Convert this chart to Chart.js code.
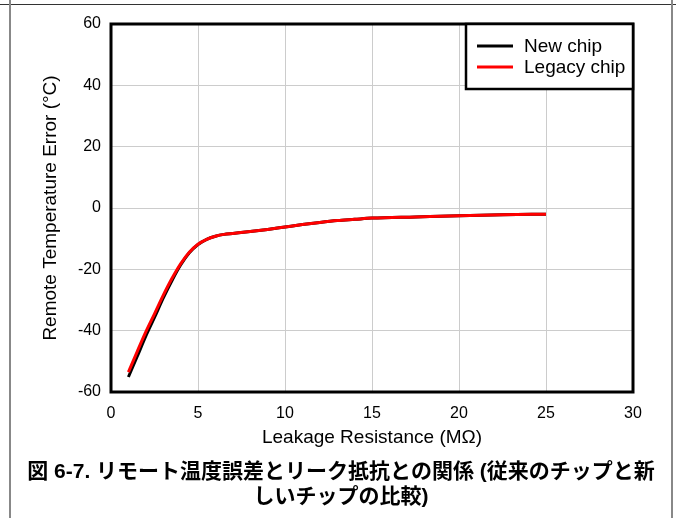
<!DOCTYPE html>
<html>
<head>
<meta charset="utf-8">
<script src="https://cdn.jsdelivr.net/npm/chart.js@4.4.0/dist/chart.umd.min.js"></script>
<style>
    html, body { margin: 0; padding: 0; background: #fff; }
    #wrap { position: relative; width: 676px; height: 518px; overflow: hidden; }
    #chart { position: absolute; left: 0; top: 0; }
    .rule-top { position: absolute; left: 0; top: 4px; width: 676px; height: 1px; background: #333; }
    .rule-left { position: absolute; left: 9px; top: 0; width: 2px; height: 518px; background: #888; }
    .rule-right { position: absolute; left: 671px; top: 0; width: 2px; height: 518px; background: #888; }
    .caption {
        position: absolute; left: 10px; width: 662px; color: #000; white-space: nowrap;
        text-align: center; line-height: 26px;
        font: bold 21px "Liberation Sans", "Noto Sans CJK JP", sans-serif;
    }
    #cap1 { top: 454px; }
    #cap2 { top: 479px; }
</style>
</head>
<body>
<div id="wrap">
    <canvas id="chart" width="676" height="518"></canvas>
    <div class="rule-top"></div>
    <div class="rule-left"></div>
    <div class="rule-right"></div>
    <div class="caption" id="cap1">図 6-7. リモート温度誤差とリーク抵抗との関係 (従来のチップと新</div>
    <div class="caption" id="cap2">しいチップの比較)</div>
</div>
<script>
// Data
const resistance = [1, 1.5, 2, 2.5, 3, 3.5, 4, 4.5, 5, 5.5, 6, 6.5, 7, 8, 9, 10, 11, 12, 13, 14, 15, 17.5, 20, 22.5, 25];
const newChip = [-55.1, -48.5, -41.8, -35.7, -29.4, -23.7, -18.6, -14.6, -11.9, -10.2, -9.2, -8.6, -8.3, -7.7, -7.0, -6.2, -5.4, -4.7, -4.1, -3.7, -3.3, -2.9, -2.5, -2.2, -2.0];
const legacyChip = [-53.5, -46.9, -40.4, -34.5, -28.5, -23.0, -18.2, -14.4, -11.8, -10.2, -9.2, -8.6, -8.3, -7.7, -7.0, -6.2, -5.4, -4.7, -4.1, -3.7, -3.3, -2.9, -2.5, -2.2, -2.0];
const seriesNames = ['New chip', 'Legacy chip'];
const seriesColors = ['#000000', '#ff0000'];
const xTitle = 'Leakage Resistance (MΩ)';
const yTitle = 'Remote Temperature Error (°C)';

const FONT = '"Liberation Sans", Arial, sans-serif';

function toPoints(ys) {
    return resistance.map((x, i) => ({ x: x, y: ys[i] }));
}

// Frame round the plot area plus the boxed legend
const framePlugin = {
    id: 'frame',
    afterDraw(chart) {
        const ctx = chart.ctx;
        const a = chart.chartArea;
        ctx.save();
        ctx.strokeStyle = '#000';
        ctx.lineWidth = 3;
        ctx.strokeRect(a.left, a.top, a.right - a.left, a.bottom - a.top);

        // legend box
        const w = 167, h = 65;
        const bx = a.right - w, by = a.top;
        ctx.fillStyle = '#fff';
        ctx.fillRect(bx, by, w, h);
        ctx.lineWidth = 2.5;
        ctx.strokeRect(bx, by, w, h);

        ctx.font = '19px ' + FONT;
        ctx.textBaseline = 'middle';
        ctx.textAlign = 'left';
        chart.data.datasets.forEach((ds, i) => {
            const y = by + 22 + i * 21;
            ctx.strokeStyle = ds.borderColor;
            ctx.lineWidth = 3;
            ctx.beginPath();
            ctx.moveTo(bx + 11, y);
            ctx.lineTo(bx + 47, y);
            ctx.stroke();
            ctx.fillStyle = '#000';
            ctx.fillText(ds.label, bx + 58, y + 1);
        });
        ctx.restore();
    }
};

new Chart(document.getElementById('chart'), {
    type: 'line',
    data: {
        datasets: [{
            label: seriesNames[0],
            data: toPoints(newChip),
            borderColor: seriesColors[0],
            borderWidth: 3,
            pointRadius: 0,
            cubicInterpolationMode: 'monotone',
            order: 1,
            fill: false
        }, {
            label: seriesNames[1],
            data: toPoints(legacyChip),
            borderColor: seriesColors[1],
            borderWidth: 3,
            pointRadius: 0,
            cubicInterpolationMode: 'monotone',
            order: 0,
            fill: false
        }]
    },
    options: {
        responsive: false,
        animation: false,
        devicePixelRatio: 1,
        layout: {
            padding: { left: 39, top: 24, right: 43, bottom: 69 }
        },
        plugins: {
            legend: { display: false },
            tooltip: { enabled: false }
        },
        scales: {
            x: {
                type: 'linear',
                min: 0,
                max: 30,
                afterFit: s => { s.height = 57; },
                ticks: {
                    stepSize: 5,
                    color: '#000',
                    padding: 12,
                    font: { family: FONT, size: 16 }
                },
                grid: { color: '#cccccc', drawTicks: false },
                border: { display: false },
                title: {
                    display: true,
                    text: xTitle,
                    color: '#000',
                    padding: 0,
                    font: { family: FONT, size: 19 }
                }
            },
            y: {
                min: -60,
                max: 60,
                afterFit: s => { s.width = 72; },
                ticks: {
                    stepSize: 20,
                    color: '#000',
                    padding: 10,
                    font: { family: FONT, size: 16 }
                },
                grid: { color: '#cccccc', drawTicks: false },
                border: { display: false },
                title: {
                    display: true,
                    text: yTitle,
                    color: '#000',
                    padding: 0,
                    font: { family: FONT, size: 19 }
                }
            }
        }
    },
    plugins: [framePlugin]
});
</script>
</body>
</html>
